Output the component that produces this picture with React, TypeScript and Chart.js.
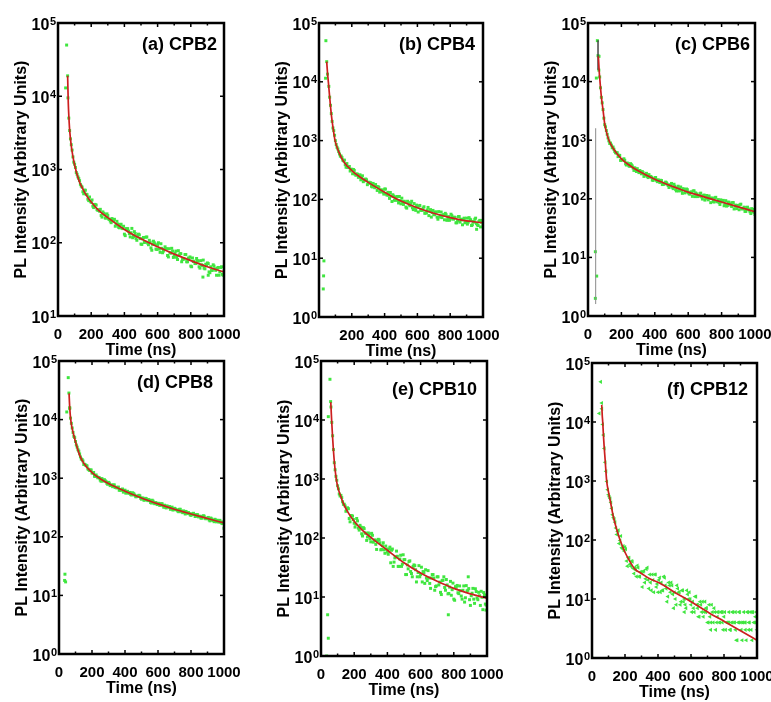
import React, { useEffect, useRef } from 'react';
import { Chart, registerables } from 'chart.js';

Chart.register(...registerables);

const FONT = '"Liberation Sans", Arial, Helvetica, sans-serif';
const GREEN = '#3fe63f';
const RED = '#cc1f1f';

// time grids (ns) of the decay points
const TIME = [
  60, 70, 80, 90, 100, 110, 120, 130, 140, 150,
  160, 170, 180, 190, 200, 210, 220, 230, 240, 250,
  260, 270, 280, 290, 300, 310, 320, 330, 340, 350,
  360, 370, 380, 390, 400, 410, 420, 430, 440, 450,
  460, 470, 480, 490, 500, 510, 520, 530, 540, 550,
  560, 570, 580, 590, 600, 610, 620, 630, 640, 650,
  660, 670, 680, 690, 700, 710, 720, 730, 740, 750,
  760, 770, 780, 790, 800, 810, 820, 830, 840, 850,
  860, 870, 880, 890, 900, 910, 920, 930, 940, 950,
  960, 970, 980, 990, 1000,
];
const TIME2 = [
  65, 75, 85, 95, 105, 115, 125, 135, 145, 155,
  165, 175, 185, 195, 205, 215, 225, 235, 245, 255,
  265, 275, 285, 295, 305, 315, 325, 335, 345, 355,
  365, 375, 385, 395, 405, 415, 425, 435, 445, 455,
  465, 475, 485, 495, 505, 515, 525, 535, 545, 555,
  565, 575, 585, 595, 605, 615, 625, 635, 645, 655,
  665, 675, 685, 695, 705, 715, 725, 735, 745, 755,
  765, 775, 785, 795, 805, 815, 825, 835, 845, 855,
  865, 875, 885, 895, 905, 915, 925, 935, 945, 955,
  965, 975, 985, 995,
];

const X_TICKS = [0, 200, 400, 600, 800, 1000];
const X_MINOR = [100, 300, 500, 700, 900];
const DECADES = [1, 10, 100, 1000, 10000, 100000];
const DECADE_EXP = ['0', '1', '2', '3', '4', '5'];

// (a) CPB2
const A_PL = [
  9500, 3400, 2180, 1485, 1180, 910, 794, 704, 593, 497,
  522, 459, 394, 421, 356, 316, 334, 327, 277, 270,
  236, 264, 246, 218, 235, 208, 188, 207, 209, 176,
  180, 160, 179, 156, 131, 156, 156, 133, 137, 117,
  142, 114, 125, 128, 96, 113, 101, 119, 99, 108,
  85, 95, 100, 82, 93, 82, 97, 73, 81, 82,
  67, 83, 72, 77, 65, 77, 59, 68, 71, 59,
  60, 69, 55, 61, 48, 62, 56, 52, 57, 47,
  57, 49, 45, 51, 53, 40, 47, 42, 48, 42,
  45, 36, 46, 37, 41,
];
const A_PL2 = [
  5030, 2620, 1840, 1260, 1066, 861, 757, 627, 576, 466,
  521, 453, 376, 369, 384, 302, 331, 283, 281, 286,
  224, 253, 217, 248, 211, 198, 214, 198, 168, 196,
  163, 177, 159, 168, 125, 153, 144, 120, 157, 122,
  134, 108, 131, 114, 95, 118, 102, 120, 94, 102,
  79, 105, 96, 81, 100, 74, 84, 77, 88, 83,
  64, 73, 84, 63, 72, 63, 78, 71, 55, 60,
  69, 55, 62, 64, 47, 55.5, 52, 61, 56, 45,
  50, 58, 44, 49, 52, 39, 42, 50, 44, 36,
  46, 40, 47, 36,
];
const A_EXTRA_T = [46, 52, 58, 873, 905];
const A_EXTRA = [13000, 50000, 19000, 34, 36];
const A_FIT_T = [58, 62, 66, 70, 80, 90, 100, 125, 150, 175, 200, 250, 300, 400, 500, 600, 700, 800, 900, 1000];
const A_FIT = [19000, 8000, 5000, 3500, 2100, 1500, 1150, 720, 540, 430, 360, 270, 220, 152, 113, 88, 70, 57, 47, 40];

// (b) CPB4
const B_PL = [
  8360, 3980, 2120, 1480, 998, 768, 650, 544, 515, 453,
  390, 407, 348, 304, 326, 323, 269, 271, 237, 262,
  228, 200, 219, 215, 189, 189, 167, 187, 158, 165,
  165, 133, 146, 132, 150, 123, 132, 104, 114, 120,
  97, 109, 96, 112, 84, 92, 93, 74, 93, 81,
  86, 72, 85, 65, 74, 77, 65, 65, 75, 59,
  66, 53, 67, 60, 55, 61, 50, 62, 53, 49,
  55, 58, 44, 51, 46, 53, 46, 49, 40, 51,
  41, 45, 46, 40, 48, 41, 46, 36, 42, 46,
  39, 36, 44, 41, 37,
];
const B_PL2 = [
  5470, 2880, 1640, 1233, 857, 722, 592, 546, 465, 466,
  352, 349, 363, 324, 273, 311, 257, 268, 243, 215,
  252, 207, 222, 178, 196, 192, 163, 165, 179, 142,
  160, 136, 142, 123, 150, 118, 118, 131, 92, 114,
  97, 112, 87, 95, 105, 82, 90, 71, 89, 78,
  93, 67, 71, 80, 61, 79, 67, 71, 58, 59,
  73, 63, 50, 65, 55, 61, 46, 50, 61, 54,
  45, 55, 47, 44, 56, 48, 50, 40, 43, 51,
  46, 37, 48, 42, 38, 49, 45, 37, 41, 48,
  37, 42, 34, 44,
];
const B_EXTRA_T = [26, 28, 30, 40, 42, 47, 52, 961];
const B_EXTRA = [3, 5, 9, 11500, 50000, 22000, 13500, 31];
const B_FIT_T = [47, 52, 57, 65, 75, 85, 98, 120, 150, 200, 250, 300, 350, 400, 450, 500, 600, 700, 800, 900, 1000];
const B_FIT = [22000, 14000, 10000, 5500, 2800, 1700, 1000, 650, 440, 310, 240, 195, 160, 132, 110, 94, 72, 58, 49, 43, 40];

// (c) CPB6
const C_PL = [
  27700, 12000, 5390, 3330, 1840, 1460, 1095, 879, 826, 765,
  644, 605, 524, 548, 461, 466, 454, 377, 396, 358,
  381, 335, 338, 292, 300, 304, 267, 279, 254, 272,
  230, 238, 234, 206, 227, 207, 211, 190, 205, 176,
  186, 187, 168, 166, 183, 149, 164, 136, 164, 149,
  139, 149, 126, 147, 128, 120, 131, 136, 109, 121,
  110, 122, 108, 113, 95, 114, 96, 102, 103, 90,
  104, 91, 97, 80, 89, 94, 81, 75, 88, 82,
  74, 86, 75, 68, 77, 79, 68, 69, 61, 71,
  67, 60, 68, 60, 54,
];
const C_PL2 = [
  15700, 7840, 4340, 2375, 1690, 1260, 975, 894, 743, 702,
  611, 612, 556, 452, 462, 482, 395, 408, 365, 398,
  364, 305, 312, 327, 280, 294, 292, 241, 256, 241,
  259, 241, 209, 216, 231, 196, 204, 207, 175, 178,
  193, 178, 156, 175, 158, 177, 143, 154, 136, 159,
  124, 145, 132, 143, 122, 130, 110, 137, 126, 109,
  113, 125, 99, 116, 102, 105, 112, 86, 102, 88,
  106, 89, 86, 96, 89, 76, 93, 77, 87, 78,
  86, 67, 78, 75, 65, 81, 67, 72, 61, 72,
  64.5, 56, 66, 59,
];
const C_EXTRA_T = [44, 44, 52, 50, 56, 66];
const C_EXTRA = [2, 12.5, 4.8, 11500, 50000, 27000];
const C_FIT_T = [62, 67, 72, 80, 90, 100, 110, 125, 150, 200, 250, 300, 400, 500, 600, 700, 800, 900, 1000];
const C_FIT = [27000, 15000, 10000, 5500, 3300, 1900, 1400, 1000, 730, 480, 370, 300, 215, 165, 130, 107, 88, 73, 60];
const C_TRACE_T = [46, 46];
const C_TRACE = [1.6, 1600];
const C_TRACE2_T = [60, 60];
const C_TRACE2 = [16000, 51000];

// (d) CPB8
const D_PL = [
  28400, 10600, 7200, 5180, 4230, 3390, 2900, 2310, 2090, 1714,
  1680, 1616, 1398, 1382, 1228, 1251, 1073, 1066, 1028, 927,
  985, 905, 906, 820, 849, 747, 769, 761, 695, 682,
  706, 627, 643, 578, 625, 588, 559, 572, 517, 552,
  510, 485, 499, 499, 438, 454, 428, 444, 414, 416,
  377, 406, 367, 375, 372, 344, 367, 339, 346, 311,
  324, 328, 301, 287, 306, 292, 275, 294, 272, 258,
  270, 271, 249, 250, 232, 249, 240, 225, 238, 221,
  209, 222, 225, 203, 207, 194, 209, 193, 181, 193,
  191, 178, 179, 168, 180,
];
const D_PL2 = [
  15400, 8640, 6050, 4940, 3690, 3060, 2600, 2120, 1974, 1728,
  1654, 1442, 1361, 1382, 1223, 1078, 1136, 1016, 1013, 888,
  897, 945, 874, 787, 825, 756, 717, 770, 702, 694,
  623, 623, 654, 612, 555, 597, 554, 525, 564, 535,
  482, 491, 511, 454, 461, 420, 453, 422, 432, 385,
  421, 379, 384, 355, 372, 349, 366, 319, 324, 337,
  321, 295, 321, 290, 299, 285, 268, 295, 265, 277,
  245, 260, 259, 237, 240, 252, 222, 239, 219, 225,
  208, 229, 207, 207, 214, 187, 202, 189, 199, 180,
  185, 191, 172, 177,
];
const D_EXTRA_T = [34, 36, 40, 47, 56, 65, 1000];
const D_EXTRA = [18, 23, 17, 13500, 52000, 16000, 140];
const D_FIT_T = [61, 65, 71, 80, 97, 127, 150, 200, 250, 300, 400, 500, 600, 700, 800, 900, 1000];
const D_FIT = [28000, 16000, 10000, 7000, 4500, 2400, 1800, 1250, 980, 810, 600, 460, 365, 295, 245, 205, 172];

// (e) CPB10
const E_PL = [
  16600, 5400, 1890, 1109, 768, 557, 528, 412, 374, 284,
  325, 214, 241, 235, 178, 171, 195, 136, 153, 108,
  144, 120, 104, 116, 86, 111, 90, 78, 90, 93,
  63, 74, 63, 73, 58, 65, 38, 65, 39, 48,
  49, 33, 51, 36, 43, 24, 35, 40, 27, 22,
  35, 29, 22, 34, 24, 18, 26, 29, 19, 21,
  14, 24, 21, 15, 22, 16, 12, 19, 22, 13,
  16, 11.5, 18.4, 13.3, 9.2, 15, 15.7, 11.4, 12.8, 9.2,
  15.4, 9.7, 12.7, 13.9, 7.2, 11.6, 9.2, 13.8, 9.6, 12,
  7.2, 9.9, 11.9, 7.6, 10.8,
];
const E_PL2 = [
  9110, 3150, 1433, 954, 681, 515, 484, 372, 350, 290,
  314, 188, 238, 206, 153, 214, 147, 164, 118, 150,
  122, 91, 122, 97, 120, 85, 93, 64, 95, 83,
  64, 83, 55, 65, 53, 70, 62, 33, 46, 60,
  33, 44, 33, 52, 43, 24, 30, 41, 25, 33,
  34, 18, 26, 22, 32, 27, 17, 21, 28, 17,
  21, 24, 13, 15.4, 22, 17.9, 11, 19.3, 14.5, 19.8,
  11.3, 14.7, 10.7, 17.2, 8.8, 14.6, 11.8, 15.4, 10.4, 13,
  8.2, 15.6, 13, 9, 10.5, 14, 7.8, 12.4, 9, 10.5,
  12.5, 6.1, 10.8, 7.3,
];
const E_EXTRA_T = [34, 40, 44, 44, 54, 58, 767, 887, 994];
const E_EXTRA = [1, 5, 2, 11400, 49000, 20500, 5, 22, 6];
const E_FIT_T = [59, 62, 64, 70, 80, 90, 100, 120, 134, 160, 195, 250, 315, 400, 500, 600, 700, 800, 900, 1000];
const E_FIT = [20000, 13000, 10000, 5000, 2000, 1100, 750, 500, 390, 280, 200, 135, 95, 62, 38, 25.5, 18.5, 14, 11.3, 9.5];

// (f) CPB12
const F_PL = [
  16700, 6000, 2070, 979, 585, 503, 343, 238, 200, 124,
  146, 98, 74, 79, 76, 44, 50, 39, 44, 33,
  34, 24, 34, 24, 28, 29, 19, 32, 21, 26,
  14, 21, 26, 16, 13, 23, 19, 14, 23, 15,
  11, 17, 19, 12, 13, 8, 15, 13, 9, 14,
  10, 7, 12, 13, 8, 9, 6, 11, 7, 5,
  8, 9, 6, 7, 4, 8, 4, 6, 7, 3,
  5, 4, 6, 4, 5, 3, 4, 6, 3, 4,
  4, 6, 2, 4, 4, 2, 6, 4, 6, 3,
  6, 2, 4, 5, 3,
];
const F_PL2 = [
  9100, 3570, 1456, 714, 539, 432, 267, 226, 160, 139,
  87, 117, 71, 65, 70, 36, 50, 36, 43, 27,
  31, 37, 24, 29, 16, 30, 22, 34, 15, 19,
  26, 13, 26, 18, 21, 13, 14, 24, 17, 9,
  19, 13, 17, 7, 10, 17, 13, 8, 14, 9,
  8, 14, 10, 10, 6, 7, 11, 8, 5, 9,
  6, 5, 9, 7, 4, 5, 8, 4, 6, 4,
  6, 4, 6, 3, 6, 4, 4, 3, 4, 6,
  4, 2, 4, 6, 3, 4, 4, 2, 6, 4,
  3, 6, 4, 6,
];
const F_EXTRA_T = [0, 44, 53, 59, 560, 600, 640, 690, 720, 760, 790, 830, 850, 870, 890, 910, 930, 950, 970, 990, 1000];
const F_EXTRA = [1, 14000, 48000, 21000, 6, 1, 8, 6, 3, 6, 6, 4, 6, 3, 6, 4, 3, 4, 6, 4, 1];
const F_FIT_T = [59, 62, 65, 70, 80, 89, 100, 115, 129, 150, 170, 200, 230, 260, 300, 350, 412, 500, 600, 715, 800, 900, 1000];
const F_FIT = [19500, 13000, 10000, 5500, 2200, 1000, 650, 400, 250, 150, 100, 62, 43, 32, 27, 22, 18.5, 13, 9, 5.7, 4.2, 2.9, 2.0];

type Trace = { t: number[]; v: number[]; color: string; width: number };
type PanelDef = {
  label: string;
  pl: number[];
  pl2: number[];
  extraT: number[];
  extra: number[];
  fitT: number[];
  fit: number[];
  yMin: number;
  rect: [number, number, number, number];
  labelDx: number;
  labelDy: number;
  hideZero?: boolean;
  marker: 'rect' | 'triangle';
  traces?: Trace[];
};

const PANELS: PanelDef[] = [
  { label: '(a) CPB2', pl: A_PL, pl2: A_PL2, extraT: A_EXTRA_T, extra: A_EXTRA, fitT: A_FIT_T, fit: A_FIT, yMin: 10, rect: [58, 23, 224, 316], labelDx: 7, labelDy: 27, marker: 'rect' },
  { label: '(b) CPB4', pl: B_PL, pl2: B_PL2, extraT: B_EXTRA_T, extra: B_EXTRA, fitT: B_FIT_T, fit: B_FIT, yMin: 1, rect: [319, 23, 483, 317], labelDx: 8, labelDy: 27, hideZero: true, marker: 'rect' },
  {
    label: '(c) CPB6', pl: C_PL, pl2: C_PL2, extraT: C_EXTRA_T, extra: C_EXTRA, fitT: C_FIT_T, fit: C_FIT, yMin: 1, rect: [588, 23, 755, 316], labelDx: 5, labelDy: 27, marker: 'rect',
    traces: [
      { t: C_TRACE_T, v: C_TRACE, color: '#8a8a8a', width: 1 },
      { t: C_TRACE2_T, v: C_TRACE2, color: '#444444', width: 1.5 },
    ],
  },
  { label: '(d) CPB8', pl: D_PL, pl2: D_PL2, extraT: D_EXTRA_T, extra: D_EXTRA, fitT: D_FIT_T, fit: D_FIT, yMin: 1, rect: [59, 361, 224, 654], labelDx: 11, labelDy: 27, marker: 'rect' },
  { label: '(e) CPB10', pl: E_PL, pl2: E_PL2, extraT: E_EXTRA_T, extra: E_EXTRA, fitT: E_FIT_T, fit: E_FIT, yMin: 1, rect: [321, 361, 487, 656], labelDx: 10, labelDy: 34, marker: 'rect' },
  { label: '(f) CPB12', pl: F_PL, pl2: F_PL2, extraT: F_EXTRA_T, extra: F_EXTRA, fitT: F_FIT_T, fit: F_FIT, yMin: 1, rect: [592, 363, 757, 658], labelDx: 9, labelDy: 32, marker: 'triangle' },
];

const framePlugin = {
  id: 'frame',
  afterDatasetsDraw(chart: any, _args: any, opts: any) {
    const { ctx, chartArea } = chart;
    const { left, top, right, bottom } = chartArea;
    const x = chart.scales.x;
    const y = chart.scales.y;
    ctx.save();
    ctx.strokeStyle = '#000';
    ctx.lineWidth = 2.5;
    ctx.strokeRect(left, top, right - left, bottom - top);
    ctx.lineWidth = 1.5;
    const seg = (x1: number, y1: number, x2: number, y2: number) => {
      ctx.beginPath();
      ctx.moveTo(x1, y1);
      ctx.lineTo(x2, y2);
      ctx.stroke();
    };
    X_TICKS.forEach((v) => {
      const px = x.getPixelForValue(v);
      seg(px, bottom, px, bottom - 4);
      seg(px, top, px, top + 4);
    });
    X_MINOR.forEach((v) => {
      const px = x.getPixelForValue(v);
      seg(px, bottom, px, bottom - 2.5);
      seg(px, top, px, top + 2.5);
    });
    y.ticks.forEach((t: any) => {
      const py = y.getPixelForValue(t.value);
      seg(left, py, left + 4, py);
      seg(right, py, right - 4, py);
    });
    // decade labels: "10" with a raised exponent
    ctx.fillStyle = '#000';
    ctx.textAlign = 'right';
    ctx.textBaseline = 'alphabetic';
    y.ticks.forEach((t: any) => {
      const i = DECADES.indexOf(Number(t.value));
      if (i < 0) return;
      const py = y.getPixelForValue(t.value);
      ctx.font = `bold 11px ${FONT}`;
      const exp = DECADE_EXP[i];
      const ew = ctx.measureText(exp).width;
      ctx.fillText(exp, left - 2, py + 1.5);
      ctx.font = `bold 16px ${FONT}`;
      ctx.fillText('10', left - 2.5 - ew, py + 6.5);
    });
    ctx.font = `bold 18px ${FONT}`;
    ctx.fillText(opts.text, right - opts.dx, top + opts.dy);
    ctx.restore();
  },
};

const W = 50;
const H = 44;
const PT = 14;
const PR = 24;

function Panel({ def }: { def: PanelDef }) {
  const ref = useRef<HTMLCanvasElement>(null);
  const [L, T, R, B] = def.rect;
  const width = W + (R - L) + PR;
  const height = PT + (B - T) + H;

  useEffect(() => {
    const pts = def.pl
      .map((v, i) => ({ x: TIME[i], y: v }))
      .concat(def.pl2.map((v, i) => ({ x: TIME2[i], y: v })))
      .concat(def.extraT.map((t, i) => ({ x: t, y: def.extra[i] })));
    const fitPts = def.fitT.map((t, i) => ({ x: t, y: def.fit[i] }));
    const traceSets = (def.traces || []).map((tr) => ({
      data: tr.t.map((t, i) => ({ x: t, y: tr.v[i] })),
      showLine: true,
      borderColor: tr.color,
      borderWidth: tr.width,
      pointRadius: 0,
    }));
    const datasets: any[] = [
      {
        data: fitPts,
        showLine: true,
        borderColor: RED,
        borderWidth: 1.7,
        pointRadius: 0,
        cubicInterpolationMode: 'monotone',
      },
      ...traceSets,
      {
        data: pts,
        showLine: false,
        backgroundColor: GREEN,
        borderColor: GREEN,
        borderWidth: 0,
        pointRadius: def.marker === 'triangle' ? 2.4 : 2.1,
        pointStyle: def.marker,
        pointRotation: def.marker === 'triangle' ? -90 : 0,
      },
    ];
    const tickFont = { size: 15, weight: 'bold' as const, family: FONT };
    const titleFont = { size: 16, weight: 'bold' as const, family: FONT };
    const chart = new Chart(ref.current as HTMLCanvasElement, {
      type: 'scatter',
      data: { datasets },
      plugins: [framePlugin],
      options: {
        responsive: false,
        animation: false,
        devicePixelRatio: 1,
        layout: { padding: { left: 0, top: PT, right: PR, bottom: 0 } },
        plugins: {
          legend: { display: false },
          tooltip: { enabled: false },
          frame: { text: def.label, dx: def.labelDx, dy: def.labelDy },
        } as any,
        scales: {
          x: {
            type: 'linear',
            min: 0,
            max: 1000,
            grid: { display: false },
            border: { display: false },
            afterBuildTicks: (s: any) => {
              s.ticks = X_TICKS.map((v) => ({ value: v }));
            },
            afterFit: (s: any) => {
              s.height = H;
            },
            ticks: {
              padding: 2,
              maxRotation: 0,
              autoSkip: false,
              color: '#000',
              font: tickFont,
              callback: (v: any) => (def.hideZero && Number(v) === 0 ? '' : String(v)),
            },
            title: {
              display: true,
              text: 'Time (ns)',
              color: '#000',
              font: titleFont,
              padding: { top: 0, bottom: 0 },
            },
          },
          y: {
            type: 'logarithmic',
            min: def.yMin,
            max: 100000,
            grid: { display: false },
            border: { display: false },
            afterBuildTicks: (s: any) => {
              s.ticks = DECADES.filter((v) => v >= def.yMin).map((v) => ({ value: v }));
            },
            afterFit: (s: any) => {
              s.width = W;
            },
            ticks: { display: false },
            title: {
              display: true,
              text: 'PL Intensity (Arbitrary Units)',
              color: '#000',
              font: titleFont,
              padding: { top: 4.4, bottom: 0 },
            },
          },
        },
      } as any,
    });
    return () => chart.destroy();
  }, []);

  return (
    <canvas
      ref={ref}
      width={width}
      height={height}
      style={{ position: 'absolute', left: L - W, top: T - PT, width, height }}
    />
  );
}

export default function App() {
  return (
    <div style={{ position: 'absolute', left: 0, top: 0, width: 771, height: 702, background: '#fff', overflow: 'hidden' }}>
      {PANELS.map((p) => (
        <Panel key={p.label} def={p} />
      ))}
    </div>
  );
}
